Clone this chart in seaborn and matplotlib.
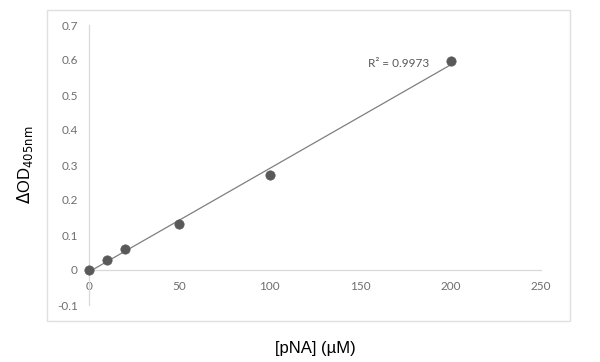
import numpy as np
import pandas as pd
import seaborn as sns
import matplotlib.pyplot as plt
from matplotlib.patches import Rectangle

# pNA standard curve
pna_um = [0, 10, 20, 50, 100, 200]
delta_od = [0.0, 0.030, 0.061, 0.132, 0.272, 0.597]
x_ticks = [0, 50, 100, 150, 200, 250]
y_ticks = [-0.1, 0, 0.1, 0.2, 0.3, 0.4, 0.5, 0.6, 0.7]
r2_label = "R\u00b2 = 0.9973"

df = pd.DataFrame({'pna': pna_um, 'od': delta_od})

sns.set_style('white')
plt.rcParams['font.family'] = ['Lato', 'DejaVu Sans']

fig = plt.figure(figsize=(6, 3.62), dpi=100)
ax = fig.add_axes([89 / 600, 1 - 305 / 362, 452 / 600, 280 / 362])

# light frame around the chart area
fig.patches.append(Rectangle((47 / 600, 1 - 321 / 362), 523 / 600, 311 / 362,
                             transform=fig.transFigure, fill=False,
                             edgecolor='#e0e0e0', linewidth=1.0))

# linear trendline
sns.regplot(data=df, x='pna', y='od', ax=ax, scatter=False, ci=None,
            line_kws={'color': '#7f7f7f', 'linewidth': 0.9})
sns.scatterplot(data=df, x='pna', y='od', ax=ax, color='#595959', s=45,
                edgecolor='#595959', linewidth=0.5, zorder=5, clip_on=False)

ax.set_xlim(0, 250)
ax.set_ylim(-0.1, 0.7)
ax.set_xticks(x_ticks)
ax.set_yticks(y_ticks)
ax.set_yticklabels(['0' if v == 0 else f'{v:.1f}' for v in y_ticks])
ax.tick_params(axis='both', length=0, labelsize=8.5, labelcolor='#6e6e6e')
ax.tick_params(axis='y', pad=8)
ax.tick_params(axis='x', pad=8)

# x axis crosses at zero, like the spreadsheet chart
for s in ['top', 'right']:
    ax.spines[s].set_visible(False)
ax.spines['bottom'].set_position(('data', 0))
for s in ['left', 'bottom']:
    ax.spines[s].set_color('#d9d9d9')
    ax.spines[s].set_linewidth(0.9)

ax.text(188, 0.59, r2_label, ha='right', va='center', fontsize=8.5, color='#595959')

ax.set_xlabel('[pNA] (\u00b5M)', fontsize=12, family='Liberation Sans', color='black')
ax.set_ylabel(r'$\Delta$OD$_{\mathrm{405nm}}$', fontsize=12, family='Liberation Sans', color='black')
ax.xaxis.set_label_coords(0.5, -0.155)
ax.yaxis.set_label_coords(-0.142, 0.5)
ax.yaxis.label.set_verticalalignment('center')
ax.xaxis.label.set_verticalalignment('center')

fig.savefig('out.png', dpi=100)
